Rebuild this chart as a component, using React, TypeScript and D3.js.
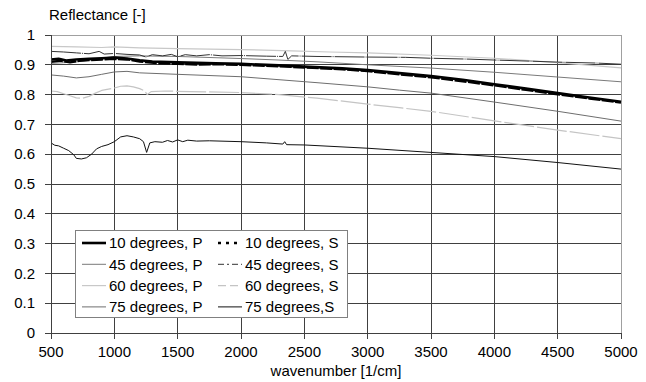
import React from 'react';
import * as d3 from 'd3';

// wavenumber ticks and reflectance ticks
const xTicks = [500, 1000, 1500, 2000, 2500, 3000, 3500, 4000, 4500, 5000];
const yTicks = [0, 0.1, 0.2, 0.3, 0.4, 0.5, 0.6, 0.7, 0.8, 0.9, 1];

// [wavenumber, reflectance]
const p10: [number, number][] = [
  [500, 0.918], [560, 0.92], [620, 0.914], [700, 0.918], [800, 0.92], [900, 0.922], [1000, 0.924],
  [1100, 0.921], [1200, 0.915], [1300, 0.911], [1500, 0.908], [1800, 0.905], [2000, 0.903],
  [2300, 0.898], [2500, 0.894], [2800, 0.888], [3000, 0.882], [3250, 0.872], [3500, 0.862],
  [3750, 0.85], [4000, 0.835], [4250, 0.82], [4500, 0.805], [4750, 0.79], [5000, 0.776],
];
const s10: [number, number][] = [
  [500, 0.91], [580, 0.914], [650, 0.908], [720, 0.913], [800, 0.916], [900, 0.918], [1000, 0.92],
  [1100, 0.918], [1200, 0.911], [1350, 0.905], [1500, 0.903], [1650, 0.901], [1800, 0.902],
  [2000, 0.9], [2300, 0.895], [2500, 0.891], [2800, 0.885], [3000, 0.879], [3250, 0.868],
  [3500, 0.858], [3750, 0.845], [4000, 0.831], [4250, 0.816], [4500, 0.801], [4750, 0.787], [5000, 0.773],
];
const p45: [number, number][] = [
  [500, 0.905], [600, 0.907], [700, 0.91], [800, 0.915], [900, 0.922], [1000, 0.928],
  [1200, 0.93], [1500, 0.928], [2000, 0.921], [2300, 0.916], [2600, 0.91], [3000, 0.9],
  [3500, 0.889], [4000, 0.875], [4500, 0.859], [5000, 0.843],
];
const s45: [number, number][] = [
  [500, 0.945], [600, 0.943], [700, 0.94], [800, 0.937], [880, 0.945], [920, 0.936], [1000, 0.938],
  [1100, 0.935], [1200, 0.933], [1250, 0.926], [1300, 0.934], [1380, 0.93], [1450, 0.935],
  [1500, 0.927], [1560, 0.934], [1650, 0.93], [1750, 0.934], [1850, 0.93], [2000, 0.931],
  [2200, 0.929], [2330, 0.928], [2350, 0.945], [2370, 0.918], [2400, 0.93], [2600, 0.928],
  [3000, 0.926], [3300, 0.925], [3500, 0.922], [3800, 0.919], [4000, 0.916], [4300, 0.912],
  [4500, 0.909], [4800, 0.906], [5000, 0.902],
];
const p60: [number, number][] = [
  [500, 0.962], [700, 0.96], [900, 0.958], [1000, 0.96], [1200, 0.957], [1500, 0.954],
  [2000, 0.951], [2400, 0.947], [2700, 0.943], [3000, 0.94], [3500, 0.932], [4000, 0.922],
  [4500, 0.907], [5000, 0.89],
];
const s60: [number, number][] = [
  [500, 0.812], [550, 0.81], [600, 0.803], [650, 0.796], [700, 0.789], [750, 0.788],
  [800, 0.794], [850, 0.805], [900, 0.814], [1000, 0.822], [1050, 0.828], [1100, 0.829],
  [1150, 0.826], [1200, 0.82], [1240, 0.812], [1260, 0.8], [1290, 0.81], [1400, 0.812],
  [1600, 0.81], [2000, 0.807], [2300, 0.8], [2600, 0.788], [3000, 0.768], [3250, 0.756],
  [3500, 0.744], [4000, 0.712], [4500, 0.681], [5000, 0.652],
];
const p75: [number, number][] = [
  [500, 0.866], [600, 0.862], [700, 0.856], [800, 0.86], [900, 0.868], [1000, 0.876],
  [1100, 0.878], [1200, 0.873], [1500, 0.868], [2000, 0.86], [2600, 0.84], [3000, 0.826],
  [3250, 0.815], [3500, 0.805], [4000, 0.775], [4500, 0.744], [5000, 0.711],
];
const s75: [number, number][] = [
  [500, 0.638], [530, 0.63], [560, 0.628], [600, 0.62], [640, 0.612], [680, 0.598],
  [700, 0.586], [740, 0.584], [780, 0.588], [820, 0.6], [860, 0.618], [900, 0.626],
  [950, 0.632], [1000, 0.642], [1050, 0.658], [1100, 0.662], [1150, 0.658], [1200, 0.652],
  [1230, 0.642], [1255, 0.606], [1280, 0.638], [1320, 0.642], [1380, 0.64], [1420, 0.646],
  [1460, 0.641], [1500, 0.648], [1540, 0.642], [1580, 0.647], [1650, 0.644], [1750, 0.645],
  [2000, 0.642], [2200, 0.638], [2330, 0.634], [2345, 0.642], [2360, 0.632], [2500, 0.631],
  [3000, 0.62], [3500, 0.606], [4000, 0.592], [4500, 0.572], [5000, 0.55],
];

type Series = {
  label: string;
  data: [number, number][];
  color: string;
  width: number;
  dash?: string;
  legendDash?: string;
};

const series: Series[] = [
  { label: '75 degrees, P', data: p75, color: '#6e6e6e', width: 1 },
  { label: '75 degrees,S', data: s75, color: '#111', width: 1 },
  { label: '60 degrees, S', data: s60, color: '#c4c4c4', width: 1.2, dash: '30,3', legendDash: '8,4' },
  { label: '60 degrees, P', data: p60, color: '#c8c8c8', width: 1.2 },
  { label: '45 degrees, P', data: p45, color: '#7a7a7a', width: 1 },
  { label: '45 degrees, S', data: s45, color: '#333', width: 1, dash: '30,1,1,1', legendDash: '6,3,2,3' },
  { label: '10 degrees, S', data: s10, color: '#000', width: 2.4, dash: '12,1.5', legendDash: '3,5' },
  { label: '10 degrees, P', data: p10, color: '#000', width: 2.6 },
];

const legendCols = [
  ['10 degrees, P', '45 degrees, P', '60 degrees, P', '75 degrees, P'],
  ['10 degrees, S', '45 degrees, S', '60 degrees, S', '75 degrees,S'],
];

const W = 646;
const H = 382;
const margin = { left: 51, right: 25, top: 35, bottom: 49 };
const font = '"Liberation Sans", Arial, sans-serif';
const fs = 15;

export default function App() {
  const x = d3.scaleLinear().domain([500, 5000]).range([margin.left, W - margin.right]);
  const y = d3.scaleLinear().domain([0, 1]).range([H - margin.bottom, margin.top]);
  const line = d3
    .line<[number, number]>()
    .x((d) => x(d[0]))
    .y((d) => y(d[1]));

  const x0 = x(500);
  const x1 = x(5000);
  const y0 = y(0);
  const y1 = y(1);

  const lgX = 75;
  const lgY = 230;
  const rowH = 21.3;

  return (
    <svg
      width={W}
      height={H}
      style={{ position: 'absolute', left: 0, top: 0, background: '#fff' }}
      fontFamily={font}
    >
      {/* grid */}
      {yTicks.slice(1, -1).map((t) => (
        <line key={'gy' + t} x1={x0} x2={x1} y1={y(t)} y2={y(t)} stroke="#404040" strokeWidth={1} shapeRendering="crispEdges" />
      ))}
      {xTicks.slice(1, -1).map((t) => (
        <line key={'gx' + t} x1={x(t)} x2={x(t)} y1={y1} y2={y0} stroke="#404040" strokeWidth={1} shapeRendering="crispEdges" />
      ))}
      {/* frame top/right */}
      <line x1={x0} x2={x1} y1={y1} y2={y1} stroke="#a0a0a0" shapeRendering="crispEdges" />
      <line x1={x1} x2={x1} y1={y1} y2={y0} stroke="#a0a0a0" shapeRendering="crispEdges" />

      {/* series */}
      {series.map((s) => (
        <path
          key={s.label}
          d={line(s.data) || ''}
          fill="none"
          stroke={s.color}
          strokeWidth={s.width}
          strokeDasharray={s.dash}
          strokeLinejoin="round"
        />
      ))}

      {/* axes */}
      <line x1={x0} x2={x0} y1={y1} y2={y0} stroke="#404040" shapeRendering="crispEdges" />
      <line x1={x0} x2={x1} y1={y0} y2={y0} stroke="#404040" shapeRendering="crispEdges" />
      {yTicks.map((t) => (
        <g key={'ty' + t}>
          <line x1={x0 - 6} x2={x0} y1={y(t)} y2={y(t)} stroke="#404040" shapeRendering="crispEdges" />
          <text x={x0 - 16} y={y(t)} dy="0.35em" textAnchor="end" fontSize={fs} fill="#000">
            {d3.format('')(t)}
          </text>
        </g>
      ))}
      {xTicks.map((t) => (
        <g key={'tx' + t}>
          <line x1={x(t)} x2={x(t)} y1={y0} y2={y0 + 6} stroke="#404040" shapeRendering="crispEdges" />
          <text x={x(t)} y={y0 + 24} textAnchor="middle" fontSize={fs} fill="#000">
            {t}
          </text>
        </g>
      ))}
      <text x={49} y={20} fontSize={fs} fill="#000">Reflectance [-]</text>
      <text x={(x0 + x1) / 2} y={376} textAnchor="middle" fontSize={fs} fill="#000">
        wavenumber [1/cm]
      </text>

      {/* legend */}
      <rect x={lgX + 0.5} y={lgY + 0.5} width={272} height={87} fill="#fff" stroke="#808080" />
      {legendCols.map((col, ci) =>
        col.map((lab, ri) => {
          const s = series.find((d) => d.label === lab)!;
          const lx = ci === 0 ? 82 : 218;
          const cy = lgY + 13 + ri * rowH;
          return (
            <g key={lab}>
              <line
                x1={lx}
                x2={lx + 24}
                y1={cy}
                y2={cy}
                stroke={s.color}
                strokeWidth={s.width}
                strokeDasharray={s.legendDash}
              />
              <text x={lx + 27} y={cy} dy="0.36em" fontSize={fs} fill="#000">
                {lab}
              </text>
            </g>
          );
        })
      )}
    </svg>
  );
}
